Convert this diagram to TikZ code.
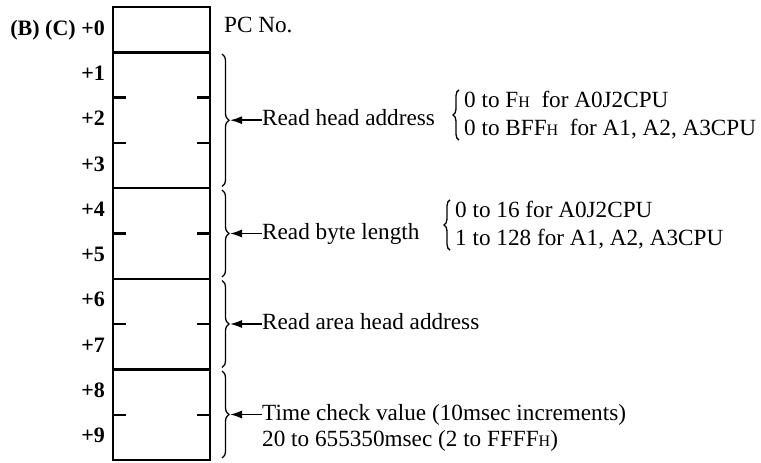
\documentclass[tikz,border=0pt]{standalone}
\usepackage{fontspec}
\setmainfont{Liberation Serif}
\usetikzlibrary{arrows.meta, positioning, decorations.pathreplacing}

\newcommand{\hsub}{{\fontsize{16}{16}\selectfont H}}

\begin{document}
\begin{tikzpicture}[
    x=1pt, y=-1pt,
    font=\fontsize{23.2}{28}\selectfont,
    cell/.style={rectangle, draw, line width=2.4pt, minimum width=97pt,
                 inner sep=0pt, outer sep=0pt, anchor=north west},
    rowno/.style={anchor=east, inner sep=0pt, text height=15pt, text depth=4pt,
                  font=\fontsize{22}{28}\selectfont\bfseries},
    lbl/.style={anchor=west, inner sep=0pt, text height=15pt, text depth=4pt},
    rng/.style={anchor=west, align=left, inner sep=1pt},
    brc/.style={decorate, decoration={brace, amplitude=7pt}, line width=1.3pt},
    rbrc/.style={decorate, decoration={brace, amplitude=6pt}, line width=1.3pt},
    arr/.style={-{Latex[length=12pt, width=8pt]}, line width=1.5pt},
    tick/.style={line width=2.4pt}
  ]
    \useasboundingbox (0,0) rectangle (761,463);

    % memory words
    \node[cell, minimum height=45.3pt]  (w0) at (113,7) {};
    \node[cell, minimum height=135.9pt] (w1) at (w0.south west) {};
    \node[cell, minimum height=90.6pt]  (w2) at (w1.south west) {};
    \node[cell, minimum height=90.6pt]  (w3) at (w2.south west) {};
    \node[cell, minimum height=90.6pt]  (w4) at (w3.south west) {};

    \foreach \y in {97.6, 142.9, 233.5, 324.1, 414.7} {
      \draw[tick] (113,\y) -- ++(13,0);
      \draw[tick] (210,\y) -- ++(-13,0);
    }

    % offsets
    \node[rowno] (n0) at (105,29.6) {(B) (C) +0};
    \foreach \i in {1,...,9}
      \node[rowno] (n\i) at (105,{29.6+45.3*\i}) {+\i};

    \node[lbl] (pcno) at (224,27) {PC No.};

    % braces
    \draw[brc] (222,54) -- (222,186.5);
    \draw[brc] (222,190) -- (222,277);
    \draw[brc] (222,280.5) -- (222,367.5);
    \draw[brc] (222,371) -- (222,458);
    \coordinate (tip1) at (230,120.2);
    \coordinate (tip2) at (230,233.5);
    \coordinate (tip3) at (230,324);
    \coordinate (tip4) at (230,414.5);

    \node[lbl] (rha) at (262,120.2) {Read head address};
    \node[lbl] (rbl) at (262,233.5) {Read byte length};
    \node[lbl] (rah) at (262,324) {Read area head address};
    \node[lbl] (tcv) at (262,414.5) {Time check value (10msec increments)};
    \node[lbl] (tcr) at (262,441) {20 to 655350msec (2 to FFFF\hsub)};

    \draw[arr] (rha.west) -- (tip1);
    \draw[arr] (rbl.west) -- (tip2);
    \draw[arr] (rah.west) -- (tip3);
    \draw[arr] (tcv.west) -- (tip4);

    % ranges
    \node[rng] (rhar) at (463,115) {0 to F\hsub\ \ for A0J2CPU\\0 to BFF\hsub\ \ for A1, A2, A3CPU};
    \node[rng] (rblr) at (454,225) {0 to 16 for A0J2CPU\\1 to 128 for A1, A2, A3CPU};
    \draw[rbrc] ([xshift=-4pt]rhar.south west) -- ([xshift=-4pt]rhar.north west);
    \draw[rbrc] ([xshift=-4pt]rblr.south west) -- ([xshift=-4pt]rblr.north west);
  \end{tikzpicture}
\end{document}
